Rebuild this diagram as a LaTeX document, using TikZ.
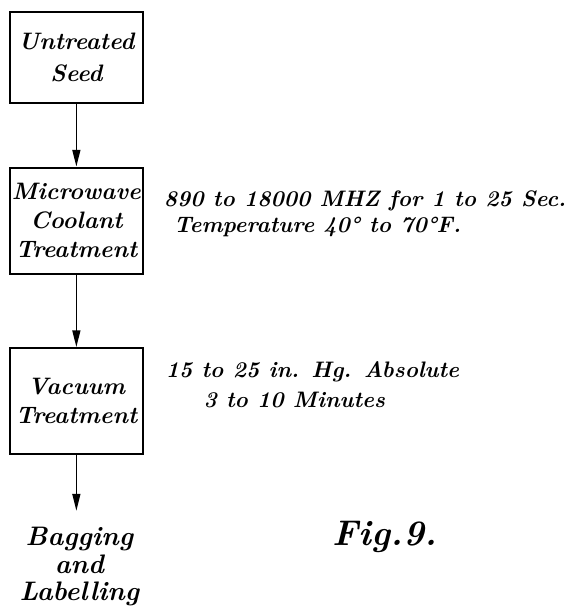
\documentclass[tikz,border=0pt]{standalone}
\usepackage{fontspec}
\usetikzlibrary{arrows.meta}
\begin{document}
\begin{tikzpicture}[x=1pt,y=-1pt,
  hand/.style={font=\fontsize{24}{29}\selectfont\bfseries\itshape},
  box/.style={hand, draw, line width=2pt, minimum width=134pt, inner sep=0pt, align=center},
  lbl/.style={font=\fontsize{22.6}{27}\selectfont\bfseries\itshape, anchor=west, inner sep=0pt},
  arr/.style={line width=1.6pt, -{Triangle[length=17pt,width=8pt]}}]
\fill[white] (0,0) rectangle (571,606);
\node[box, minimum height=92pt, font=\fontsize{24}{32}\selectfont\bfseries\itshape] (b1) at (77,58) {Untreated\\Seed};
\node[box, minimum height=107pt] (b2) at (77,222.5) {Microwave\\Coolant\\Treatment};
\node[box, minimum height=107pt] (b3) at (77,404.5) {Vacuum\\Treatment};
\node[align=center, inner sep=0pt, font=\fontsize{27}{26}\selectfont\bfseries\itshape] (bag) at (80,571) {Bagging\\[3pt]and\\[1pt]Labelling};
\coordinate (tip) at (b3.south |- 0,515);
\draw[arr] (b1) -- (b2);
\draw[arr] (b2) -- (b3);
\draw[arr] (b3) -- (tip);
\node[lbl] (m1) at (165,203) {890 to 18000 MHZ for 1 to 25 Sec.};
\node[lbl] (m2) at (175,229) {Temperature 40° to 70°F.};
\node[lbl] (v1) at (167,375) {15 to 25 in. Hg. Absolute};
\node[lbl] (v2) at (205,403) {3 to 10 Minutes};
\node[inner sep=0pt, font=\fontsize{36}{40}\selectfont\bfseries\itshape] (fig) at (388,541) {Fig.9.};
\end{tikzpicture}
\end{document}
